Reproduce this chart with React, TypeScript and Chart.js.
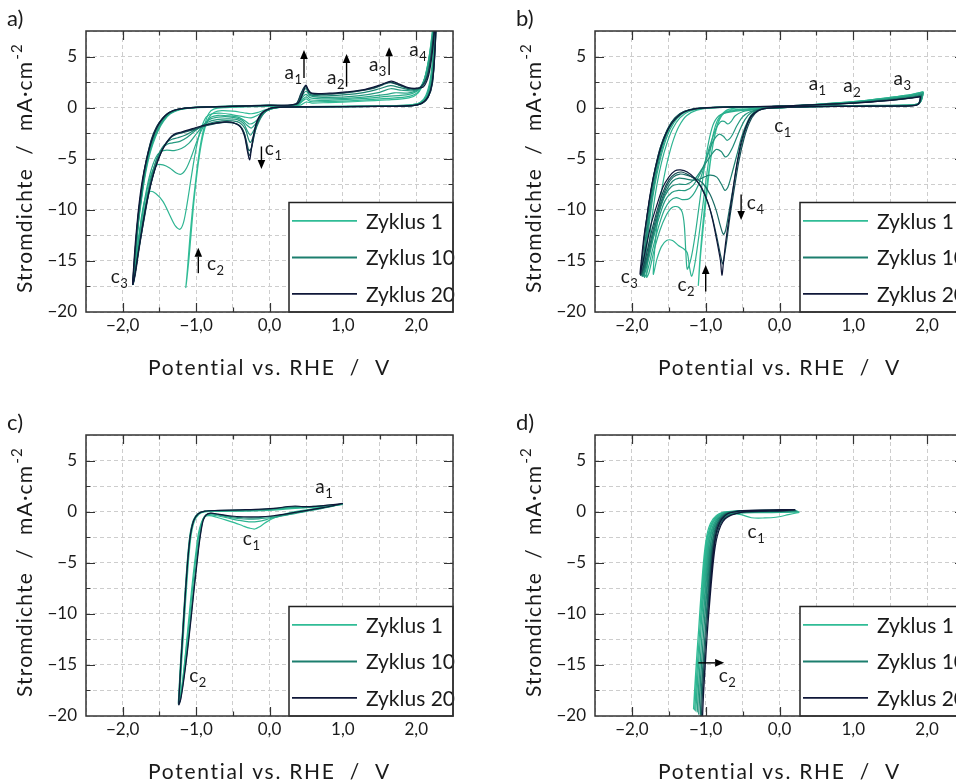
import React, { useEffect, useRef } from 'react';
import { Chart, registerables } from 'chart.js';

Chart.register(...registerables);

const FAMILY = 'Lato, "DejaVu Sans", sans-serif';
Chart.defaults.font.family = FAMILY;

// ---------------- axes / ticks ----------------
const X_GRID = [-2.5, -2, -1.5, -1, -0.5, 0, 0.5, 1, 1.5, 2, 2.5];
const X_MAJOR = [-2, -1, 0, 1, 2];
const X_TICK_LABELS = ['\u22122,0', '\u22121,0', '0,0', '1,0', '2,0'];
const Y_GRID = [-20, -17.5, -15, -12.5, -10, -7.5, -5, -2.5, 0, 2.5, 5, 7.5];
const Y_MAJOR = [5, 0, -5, -10, -15, -20];
const Y_TICK_LABELS = ['5', '0', '\u22125', '\u221210', '\u221215', '\u221220'];
const X_TITLE = 'Potential vs. RHE  /  V';
const Y_TITLE = 'Stromdichte  /  mA·cm';
const Y_TITLE_SUP = '-2';
const LEGEND_CYCLES = [1, 10, 20];
const LEGEND_LABELS = ['Zyklus 1', 'Zyklus 10', 'Zyklus 20'];

// ---------------- panel a ----------------
const A_Z01 = [0.4,0.1, 0.1,0.0, -0.05,-0.2, -0.15,-0.45, -0.25,-0.6, -0.35,-0.5, -0.5,-0.35, -0.65,-0.3, -0.75,-0.45, -0.82,-0.9, -0.88,-2.0, -0.93,-3.6, -0.98,-6.0, -1.03,-9.2, -1.07,-12.5, -1.1,-15.0, -1.14,-17.6,
  -1.12,-16.0, -1.09,-13.2, -1.05,-10.0, -1.01,-7.4, -0.97,-5.0, -0.93,-3.2, -0.88,-1.6, -0.83,-0.6, -0.76,-0.15, -0.6,0.0, -0.2,0.1, 0.2,0.15, 0.42,0.25, 0.5,0.55, 0.58,0.45, 0.8,0.5, 1.2,0.6, 1.6,0.75, 1.9,0.95, 2.02,1.4, 2.1,2.5, 2.17,4.8, 2.22,7.5, 2.26,10];
const A_Z02 = [2.26,10, 2.23,5.5, 2.19,2.8, 2.13,1.2, 2.05,0.5, 1.9,0.25, 1.4,0.15, 0.5,0.1, 0.1,0.0, -0.05,-0.3, -0.15,-0.7, -0.25,-1.0, -0.35,-0.9, -0.5,-0.7, -0.65,-0.55, -0.78,-0.6, -0.86,-0.9, -0.92,-1.8, -0.97,-3.0, -1.02,-4.8, -1.07,-7.0, -1.12,-9.3, -1.17,-11.2, -1.22,-11.9, -1.28,-11.6, -1.36,-10.5, -1.45,-9.2, -1.55,-8.4, -1.63,-8.2, -1.69,-8.8, -1.74,-10.5, -1.79,-13.2, -1.83,-15.8, -1.86,-17.3,
  -1.84,-15.8, -1.81,-13.3, -1.78,-11.0, -1.74,-8.8, -1.7,-6.9, -1.65,-5.1, -1.59,-3.6, -1.52,-2.3, -1.44,-1.3, -1.35,-0.6, -1.22,-0.2, -1.0,0.0, -0.5,0.08, 0.0,0.15, 0.38,0.25, 0.46,0.7, 0.5,0.85, 0.56,0.6, 0.8,0.6, 1.2,0.72, 1.6,0.9, 1.9,1.1, 2.03,1.6, 2.11,2.8, 2.18,5.2, 2.23,8.0, 2.27,10.5];
const A_Z03 = [2.27,10.5, 2.24,5.5, 2.2,2.8, 2.14,1.2, 2.06,0.5, 1.9,0.25, 1.4,0.15, 0.5,0.1, 0.1,0.0, -0.05,-0.35, -0.13,-0.9, -0.2,-1.4, -0.27,-1.6, -0.33,-1.3, -0.42,-0.95, -0.55,-0.8, -0.7,-0.75, -0.8,-0.95, -0.87,-1.5, -0.94,-2.4, -1.0,-3.5, -1.06,-4.7, -1.13,-5.9, -1.2,-6.5, -1.27,-6.4, -1.36,-5.9, -1.45,-5.6, -1.53,-5.6, -1.6,-6.3, -1.66,-7.8, -1.72,-10.0, -1.78,-12.8, -1.83,-15.5, -1.86,-17.3,
  -1.84,-15.6, -1.81,-13.1, -1.78,-10.8, -1.74,-8.6, -1.7,-6.7, -1.65,-4.9, -1.59,-3.4, -1.52,-2.2, -1.44,-1.2, -1.35,-0.55, -1.22,-0.18, -1.0,0.0, -0.5,0.1, 0.0,0.17, 0.38,0.27, 0.46,0.85, 0.5,1.05, 0.56,0.75, 0.8,0.72, 1.2,0.85, 1.6,1.1, 1.9,1.3, 2.03,1.75, 2.12,3.0, 2.19,5.5, 2.24,8.3, 2.27,10.5];
const A_Z04 = [2.27,10.5, 2.24,5.5, 2.2,2.6, 2.14,1.1, 2.06,0.45, 1.9,0.22, 1.4,0.13, 0.5,0.08, 0.1,0.0, -0.05,-0.35, -0.12,-0.9, -0.19,-1.6, -0.25,-2.0, -0.31,-1.7, -0.38,-1.2, -0.5,-0.95, -0.65,-0.9, -0.8,-1.1, -0.9,-1.7, -1.0,-2.6, -1.1,-3.5, -1.2,-4.0, -1.3,-4.2, -1.4,-4.15, -1.48,-4.3, -1.55,-4.9, -1.62,-6.3, -1.68,-8.2, -1.74,-10.8, -1.8,-13.8, -1.84,-16.0, -1.86,-17.3,
  -1.84,-15.5, -1.81,-13.0, -1.78,-10.7, -1.74,-8.5, -1.7,-6.6, -1.65,-4.8, -1.59,-3.3, -1.52,-2.1, -1.44,-1.15, -1.35,-0.5, -1.22,-0.15, -1.0,0.02, -0.5,0.12, 0.0,0.2, 0.38,0.3, 0.46,1.1, 0.5,1.3, 0.56,0.95, 0.8,0.85, 1.2,0.98, 1.6,1.3, 1.7,1.45, 1.9,1.45, 2.04,1.85, 2.13,3.2, 2.2,5.8, 2.25,8.8, 2.28,10.5];
const A_Z06 = [2.28,10.5, 2.25,5.8, 2.21,2.6, 2.15,1.1, 2.07,0.45, 1.92,0.2, 1.4,0.12, 0.5,0.08, 0.08,0.0, -0.04,-0.3, -0.11,-0.8, -0.17,-1.6, -0.22,-2.3, -0.26,-2.7, -0.3,-2.3, -0.35,-1.6, -0.43,-1.2, -0.55,-1.1, -0.7,-1.15, -0.85,-1.45, -1.0,-2.2, -1.12,-2.9, -1.22,-3.3, -1.32,-3.45, -1.4,-3.6, -1.47,-4.1, -1.54,-5.1, -1.61,-6.8, -1.67,-8.8, -1.73,-11.2, -1.79,-14.0, -1.84,-16.4, -1.86,-17.3,
  -1.84,-15.4, -1.81,-12.9, -1.78,-10.6, -1.74,-8.4, -1.7,-6.5, -1.65,-4.7, -1.59,-3.2, -1.52,-2.0, -1.44,-1.1, -1.35,-0.5, -1.22,-0.15, -1.0,0.03, -0.5,0.14, 0.0,0.22, 0.38,0.32, 0.46,1.35, 0.5,1.6, 0.56,1.15, 0.8,1.0, 1.2,1.15, 1.5,1.5, 1.65,1.85, 1.8,1.7, 1.95,1.65, 2.06,1.95, 2.14,3.2, 2.2,5.6, 2.25,8.8, 2.28,10.5];
const A_Z09 = [2.28,10.5, 2.25,5.8, 2.21,2.4, 2.15,1.0, 2.07,0.4, 1.93,0.18, 1.4,0.11, 0.5,0.07, 0.07,0.0, -0.04,-0.3, -0.11,-0.9, -0.17,-1.8, -0.22,-2.8, -0.26,-3.4, -0.29,-3.0, -0.33,-2.1, -0.4,-1.5, -0.5,-1.3, -0.65,-1.3, -0.85,-1.6, -1.02,-2.2, -1.15,-2.7, -1.25,-2.95, -1.33,-3.1, -1.4,-3.4, -1.47,-4.0, -1.54,-5.1, -1.61,-6.8, -1.67,-8.9, -1.73,-11.3, -1.79,-14.1, -1.84,-16.5, -1.86,-17.3,
  -1.84,-15.3, -1.81,-12.8, -1.78,-10.5, -1.74,-8.2, -1.7,-6.3, -1.65,-4.5, -1.6,-3.1, -1.53,-1.9, -1.45,-1.05, -1.36,-0.48, -1.23,-0.15, -1.0,0.03, -0.5,0.15, 0.0,0.23, 0.37,0.33, 0.45,1.5, 0.5,1.85, 0.55,1.3, 0.7,1.15, 1.0,1.25, 1.3,1.5, 1.5,1.85, 1.65,2.15, 1.78,1.95, 1.92,1.75, 2.06,1.95, 2.15,3.1, 2.21,5.5, 2.25,8.5, 2.28,10.5];
const A_Z13 = [2.28,10.5, 2.26,6.2, 2.22,2.4, 2.16,1.0, 2.08,0.42, 1.94,0.19, 1.5,0.12, 0.5,0.08, 0.06,0.0, -0.05,-0.28, -0.11,-0.7, -0.17,-1.6, -0.21,-2.8, -0.25,-4.0, -0.28,-4.2, -0.31,-3.4, -0.35,-2.4, -0.41,-1.75, -0.5,-1.5, -0.62,-1.45, -0.85,-1.75, -1.03,-2.15, -1.18,-2.45, -1.28,-2.65, -1.35,-2.95, -1.43,-3.7, -1.51,-4.9, -1.58,-6.5, -1.65,-8.6, -1.71,-11.0, -1.78,-13.8, -1.83,-16.2, -1.86,-17.3,
  -1.85,-15.8, -1.82,-13.0, -1.79,-10.6, -1.75,-8.3, -1.71,-6.3, -1.66,-4.5, -1.6,-3.0, -1.53,-1.8, -1.45,-1.0, -1.36,-0.45, -1.24,-0.15, -1.0,0.02, -0.5,0.15, 0.0,0.24, 0.36,0.35, 0.44,1.5, 0.49,2.05, 0.54,1.5, 0.62,1.3, 0.85,1.35, 1.15,1.55, 1.4,1.85, 1.55,2.25, 1.65,2.45, 1.76,2.2, 1.9,1.85, 2.05,1.95, 2.15,3.0, 2.21,5.2, 2.25,8.3, 2.28,10.5];
const A_Z16 = [2.28,10.5, 2.26,6.3, 2.22,2.4, 2.16,1.0, 2.08,0.43, 1.95,0.2, 1.5,0.12, 0.5,0.08, 0.05,0.0, -0.05,-0.26, -0.11,-0.6, -0.17,-1.4, -0.21,-2.6, -0.245,-4.0, -0.275,-4.7, -0.305,-3.9, -0.34,-2.6, -0.4,-1.8, -0.5,-1.47, -0.62,-1.42, -0.85,-1.7, -1.04,-2.1, -1.19,-2.42, -1.29,-2.62, -1.36,-3.0, -1.44,-3.85, -1.52,-5.1, -1.59,-6.7, -1.66,-8.9, -1.72,-11.3, -1.78,-14.0, -1.83,-16.4, -1.86,-17.3,
  -1.85,-15.9, -1.82,-13.1, -1.79,-10.7, -1.75,-8.4, -1.71,-6.4, -1.66,-4.6, -1.61,-3.1, -1.54,-1.9, -1.46,-1.05, -1.37,-0.48, -1.25,-0.16, -1.0,0.02, -0.5,0.12, 0.0,0.22, 0.35,0.32, 0.43,1.4, 0.49,2.15, 0.54,1.55, 0.61,1.33, 0.85,1.35, 1.15,1.58, 1.4,1.9, 1.55,2.3, 1.65,2.5, 1.76,2.25, 1.89,1.9, 2.04,1.95, 2.14,2.9, 2.2,5.0, 2.25,8.0, 2.28,10.5];
const A_Z20 = [2.28,10.5, 2.26,6.5, 2.23,3.2, 2.19,1.6, 2.14,0.85, 2.07,0.42, 1.95,0.2, 1.5,0.12, 0.5,0.08, 0.05,0.0, -0.05,-0.25, -0.11,-0.55, -0.17,-1.3, -0.21,-2.4, -0.245,-3.9, -0.27,-5.1, -0.3,-4.3, -0.34,-2.8, -0.4,-1.85, -0.5,-1.45, -0.6,-1.4, -0.85,-1.65, -1.05,-2.05, -1.2,-2.38, -1.3,-2.6, -1.37,-3.1, -1.45,-4.0, -1.53,-5.4, -1.6,-7.0, -1.67,-9.2, -1.73,-11.6, -1.79,-14.3, -1.84,-16.6, -1.865,-17.3,
  -1.855,-16.0, -1.83,-13.4, -1.8,-11.0, -1.77,-9.0, -1.73,-7.0, -1.68,-5.2, -1.62,-3.6, -1.55,-2.2, -1.47,-1.2, -1.38,-0.55, -1.26,-0.18, -1.0,0.02, -0.5,0.12, 0.0,0.22, 0.3,0.28, 0.39,0.45, 0.45,1.3, 0.495,2.2, 0.53,1.75, 0.57,1.42, 0.82,1.42, 1.05,1.55, 1.27,1.73, 1.5,2.2, 1.66,2.6, 1.77,2.3, 1.89,1.96, 2.0,1.9, 2.1,2.05, 2.17,3.2, 2.22,5.5, 2.26,8.5, 2.29,11];

// ---------------- panel b ----------------
const B_Z01 = [0.3,0.05, 0.0,0.0, -0.4,-0.1, -0.65,-0.25, -0.76,-0.6, -0.83,-1.5, -0.89,-3.2, -0.94,-5.5, -0.98,-8.1, -1.03,-11.5, -1.07,-14.5, -1.1,-17.4,
  -1.08,-15.0, -1.05,-12.3, -1.01,-9.3, -0.97,-6.8, -0.92,-4.4, -0.87,-2.4, -0.81,-1.0, -0.73,-0.3, -0.6,-0.05, -0.3,0.05, 0.0,0.1, 0.5,0.32, 1.0,0.58, 1.5,1.0, 1.8,1.3, 1.95,1.55];
const B_Z02 = [1.95,1.55, 1.92,0.7, 1.87,0.35, 1.7,0.25, 1.0,0.2, 0.4,0.12, 0.0,0.0, -0.35,-0.15, -0.62,-0.3, -0.77,-0.6, -0.85,-1.4, -0.91,-3.0, -0.96,-5.2, -1.01,-7.9, -1.06,-10.8, -1.11,-13.5, -1.15,-15.4, -1.19,-16.5, -1.22,-15.6, -1.25,-14.2, -1.3,-13.8, -1.37,-13.5, -1.45,-13.0, -1.53,-13.0, -1.6,-13.6, -1.66,-14.8, -1.71,-16.3,
  -1.69,-13.8, -1.66,-11.5, -1.62,-9.2, -1.57,-7.0, -1.51,-5.0, -1.44,-3.2, -1.36,-1.8, -1.26,-0.8, -1.12,-0.25, -0.9,0.0, -0.4,0.08, 0.0,0.12, 0.5,0.32, 1.0,0.58, 1.5,1.0, 1.8,1.3, 1.95,1.55];
const B_Z03 = [1.95,1.5, 1.92,0.7, 1.87,0.35, 1.7,0.25, 1.0,0.18, 0.4,0.1, 0.0,0.0, -0.3,-0.15, -0.6,-0.35, -0.8,-0.7, -0.89,-1.5, -0.95,-3.0, -1.0,-5.0, -1.05,-7.5, -1.1,-10.2, -1.15,-12.8, -1.2,-14.8, -1.25,-15.8, -1.27,-14.0, -1.29,-11.5, -1.32,-10.2, -1.38,-9.7, -1.46,-9.8, -1.54,-10.6, -1.62,-12.0, -1.7,-14.0, -1.77,-16.2, -1.8,-16.6,
  -1.78,-14.5, -1.75,-12.2, -1.71,-9.8, -1.66,-7.5, -1.6,-5.4, -1.53,-3.6, -1.45,-2.1, -1.35,-1.0, -1.22,-0.35, -1.0,-0.02, -0.5,0.07, 0.0,0.12, 0.5,0.3, 1.0,0.55, 1.5,0.95, 1.8,1.25, 1.95,1.5];
const B_Z04 = [1.95,1.5, 1.92,0.65, 1.87,0.33, 1.7,0.23, 1.0,0.17, 0.4,0.1, 0.0,0.0, -0.3,-0.15, -0.5,-0.4, -0.6,-0.8, -0.66,-1.4, -0.7,-1.6, -0.75,-1.35, -0.8,-1.4, -0.87,-2.2, -0.95,-3.9, -1.03,-6.0, -1.12,-7.9, -1.22,-8.9, -1.32,-9.0, -1.4,-8.8, -1.48,-9.1, -1.56,-10.0, -1.64,-11.7, -1.72,-13.9, -1.79,-16.0, -1.83,-16.6,
  -1.81,-14.6, -1.78,-12.3, -1.74,-9.9, -1.69,-7.6, -1.63,-5.5, -1.56,-3.6, -1.48,-2.1, -1.38,-1.0, -1.25,-0.35, -1.0,-0.02, -0.5,0.07, 0.0,0.12, 0.5,0.3, 1.0,0.53, 1.5,0.9, 1.8,1.2, 1.94,1.45];
const B_Z06 = [1.94,1.45, 1.91,0.6, 1.86,0.3, 1.7,0.2, 1.0,0.15, 0.4,0.1, 0.0,0.0, -0.25,-0.12, -0.4,-0.4, -0.5,-0.9, -0.58,-1.8, -0.65,-2.8, -0.71,-3.2, -0.76,-2.8, -0.82,-2.6, -0.9,-3.3, -0.98,-4.8, -1.07,-6.4, -1.17,-7.6, -1.27,-8.1, -1.37,-8.1, -1.46,-8.3, -1.55,-9.1, -1.63,-10.7, -1.71,-12.8, -1.78,-15.0, -1.84,-16.5,
  -1.82,-14.7, -1.79,-12.4, -1.75,-10.0, -1.7,-7.6, -1.64,-5.4, -1.57,-3.5, -1.49,-2.0, -1.39,-0.95, -1.26,-0.33, -1.0,-0.02, -0.5,0.07, 0.0,0.12, 0.5,0.28, 1.0,0.5, 1.5,0.85, 1.8,1.12, 1.93,1.35];
const B_Z08 = [1.93,1.35, 1.9,0.55, 1.85,0.28, 1.7,0.2, 1.0,0.14, 0.4,0.1, 0.0,0.0, -0.25,-0.12, -0.38,-0.45, -0.47,-1.2, -0.55,-2.4, -0.63,-3.8, -0.7,-4.7, -0.74,-4.8, -0.79,-4.3, -0.86,-4.1, -0.95,-4.9, -1.05,-6.0, -1.15,-7.0, -1.26,-7.5, -1.37,-7.5, -1.46,-7.7, -1.55,-8.6, -1.63,-10.2, -1.71,-12.4, -1.78,-14.6, -1.85,-16.5,
  -1.83,-14.7, -1.8,-12.4, -1.76,-10.0, -1.71,-7.6, -1.65,-5.4, -1.58,-3.5, -1.5,-2.0, -1.4,-0.95, -1.27,-0.33, -1.0,-0.02, -0.5,0.07, 0.0,0.13, 0.5,0.28, 1.0,0.48, 1.5,0.8, 1.8,1.05, 1.92,1.25];
const B_Z10 = [1.92,1.25, 1.9,0.5, 1.85,0.26, 1.7,0.18, 1.0,0.13, 0.4,0.1, 0.0,0.0, -0.22,-0.1, -0.35,-0.45, -0.43,-1.3, -0.51,-2.8, -0.58,-4.7, -0.65,-6.6, -0.7,-7.8, -0.74,-8.1, -0.78,-7.6, -0.85,-6.8, -0.95,-6.6, -1.05,-6.9, -1.15,-7.1, -1.26,-7.0, -1.36,-6.9, -1.45,-7.2, -1.54,-8.2, -1.62,-9.8, -1.7,-12.0, -1.78,-14.5, -1.86,-16.5,
  -1.84,-14.7, -1.81,-12.4, -1.77,-10.0, -1.72,-7.6, -1.66,-5.4, -1.59,-3.5, -1.51,-2.0, -1.41,-0.95, -1.28,-0.33, -1.0,-0.02, -0.5,0.07, 0.0,0.13, 0.5,0.28, 1.0,0.47, 1.5,0.76, 1.8,1.0, 1.92,1.18];
const B_Z12 = [1.92,1.18, 1.9,0.48, 1.85,0.25, 1.7,0.18, 1.0,0.13, 0.4,0.1, 0.0,0.0, -0.22,-0.1, -0.34,-0.5, -0.42,-1.4, -0.49,-2.9, -0.56,-5.0, -0.62,-7.5, -0.68,-10.0, -0.73,-12.0, -0.76,-12.4, -0.8,-11.6, -0.86,-10.0, -0.94,-8.5, -1.04,-7.4, -1.15,-6.9, -1.26,-6.6, -1.35,-6.5, -1.44,-6.8, -1.52,-7.6, -1.6,-9.1, -1.68,-11.0, -1.76,-13.5, -1.83,-15.6, -1.88,-16.4,
  -1.86,-14.8, -1.83,-12.6, -1.79,-10.4, -1.74,-8.1, -1.68,-5.8, -1.61,-3.8, -1.52,-2.2, -1.42,-1.05, -1.29,-0.38, -1.1,-0.06, -0.5,0.07, 0.0,0.13, 0.5,0.27, 1.0,0.46, 1.5,0.74, 1.8,0.98, 1.91,1.12];
const B_Z15 = [1.91,1.12, 1.89,0.46, 1.85,0.24, 1.7,0.17, 1.0,0.12, 0.4,0.1, 0.0,0.0, -0.22,-0.1, -0.33,-0.55, -0.41,-1.5, -0.48,-3.0, -0.55,-5.2, -0.61,-7.8, -0.67,-10.6, -0.72,-13.3, -0.755,-14.9, -0.77,-15.3, -0.8,-14.4, -0.86,-12.3, -0.93,-10.2, -1.02,-8.4, -1.12,-7.2, -1.23,-6.6, -1.33,-6.3, -1.42,-6.5, -1.5,-7.1, -1.58,-8.3, -1.66,-10.1, -1.74,-12.3, -1.81,-14.6, -1.88,-16.4,
  -1.86,-14.8, -1.83,-12.6, -1.79,-10.4, -1.74,-8.1, -1.68,-5.8, -1.61,-3.8, -1.52,-2.2, -1.42,-1.05, -1.3,-0.4, -1.12,-0.08, -0.5,0.07, 0.0,0.14, 0.5,0.29, 1.0,0.45, 1.5,0.72, 1.8,0.96, 1.91,1.1];
const B_Z20 = [1.91,1.08, 1.9,0.55, 1.87,0.28, 1.8,0.18, 1.0,0.13, 0.4,0.1, 0.1,0.05, -0.15,-0.05, -0.28,-0.25, -0.35,-0.6, -0.4,-1.0, -0.46,-2.0, -0.52,-3.4, -0.58,-5.6, -0.63,-8.0, -0.68,-10.6, -0.73,-13.2, -0.76,-15.2, -0.78,-16.4, -0.8,-15.0, -0.85,-13.0, -0.9,-11.2, -0.96,-9.5, -1.05,-7.9, -1.15,-6.9, -1.25,-6.3, -1.34,-6.1, -1.42,-6.2, -1.5,-6.8, -1.58,-7.8, -1.66,-9.5, -1.74,-11.4, -1.8,-13.4, -1.85,-15.1, -1.89,-16.3,
  -1.87,-14.8, -1.84,-12.8, -1.8,-10.8, -1.76,-8.8, -1.71,-6.8, -1.65,-5.0, -1.58,-3.3, -1.5,-2.0, -1.41,-1.1, -1.3,-0.45, -1.15,-0.12, -0.9,0.02, -0.5,0.08, 0.0,0.15, 0.5,0.3, 1.0,0.45, 1.5,0.72, 1.8,0.95, 1.91,1.08];

// ---------------- panel c ----------------
const C_Z01 = [1.0,0.72, 0.85,0.58, 0.68,0.4, 0.5,0.18, 0.35,0.0, 0.22,-0.22, 0.08,-0.55, -0.05,-1.05, -0.14,-1.5, -0.2,-1.7, -0.27,-1.62, -0.36,-1.4, -0.47,-1.1, -0.6,-0.8, -0.72,-0.55, -0.82,-0.4, -0.88,-0.5, -0.93,-1.1, -0.97,-2.2, -1.0,-3.8, -1.04,-6.2, -1.08,-9.0, -1.12,-12.0, -1.16,-15.0, -1.2,-17.5, -1.23,-18.7,
  -1.215,-17.0, -1.195,-14.5, -1.17,-11.8, -1.145,-9.0, -1.12,-6.4, -1.095,-4.1, -1.065,-2.2, -1.02,-0.9, -0.96,-0.25, -0.88,-0.02, -0.7,0.02, -0.4,0.05, -0.1,0.1, 0.1,0.18, 0.3,0.3, 0.5,0.4, 0.7,0.52, 0.9,0.62, 1.0,0.72];
const C_Z02 = [1.0,0.72, 0.8,0.48, 0.6,0.22, 0.4,-0.05, 0.2,-0.35, 0.0,-0.7, -0.15,-0.95, -0.28,-1.0, -0.42,-0.85, -0.58,-0.6, -0.72,-0.4, -0.82,-0.3, -0.88,-0.45, -0.92,-1.0, -0.955,-2.0, -0.985,-3.5, -1.02,-5.6, -1.06,-8.3, -1.1,-11.2, -1.15,-14.4, -1.19,-17.0, -1.23,-18.7,
  -1.22,-17.0, -1.2,-14.4, -1.175,-11.6, -1.15,-8.8, -1.125,-6.2, -1.1,-3.9, -1.07,-2.0, -1.025,-0.75, -0.965,-0.18, -0.88,0.02, -0.7,0.05, -0.4,0.08, -0.1,0.14, 0.1,0.24, 0.3,0.36, 0.5,0.42, 0.7,0.52, 0.9,0.64, 1.0,0.72];
const C_Z04 = [1.0,0.75, 0.85,0.5, 0.65,0.22, 0.45,-0.05, 0.25,-0.32, 0.05,-0.55, -0.15,-0.7, -0.35,-0.72, -0.55,-0.55, -0.7,-0.32, -0.8,-0.2, -0.87,-0.35, -0.91,-0.85, -0.94,-1.9, -0.97,-3.4, -1.0,-5.3, -1.04,-7.9, -1.08,-10.7, -1.13,-13.9, -1.18,-16.7, -1.22,-18.5, -1.24,-18.8,
  -1.23,-17.1, -1.21,-14.5, -1.185,-11.7, -1.16,-8.9, -1.135,-6.3, -1.11,-4.0, -1.08,-2.1, -1.035,-0.8, -0.975,-0.2, -0.89,0.03, -0.7,0.08, -0.4,0.12, -0.1,0.18, 0.1,0.28, 0.25,0.4, 0.4,0.42, 0.6,0.45, 0.8,0.58, 1.0,0.75];
const C_Z10 = [1.0,0.78, 0.85,0.53, 0.65,0.27, 0.45,0.0, 0.25,-0.25, 0.05,-0.45, -0.15,-0.58, -0.35,-0.6, -0.55,-0.46, -0.7,-0.28, -0.8,-0.17, -0.865,-0.32, -0.905,-0.8, -0.935,-1.85, -0.965,-3.35, -0.995,-5.25, -1.035,-7.85, -1.075,-10.65, -1.125,-13.85, -1.175,-16.65, -1.215,-18.45, -1.24,-18.85,
  -1.228,-17.15, -1.208,-14.55, -1.183,-11.75, -1.158,-8.95, -1.133,-6.35, -1.108,-4.05, -1.078,-2.15, -1.033,-0.82, -0.972,-0.2, -0.885,0.04, -0.7,0.1, -0.4,0.15, -0.1,0.22, 0.1,0.32, 0.25,0.46, 0.37,0.5, 0.5,0.47, 0.7,0.56, 0.9,0.68, 1.0,0.78];
const C_Z20 = [1.0,0.8, 0.85,0.55, 0.65,0.3, 0.45,0.05, 0.25,-0.2, 0.05,-0.4, -0.15,-0.5, -0.35,-0.5, -0.55,-0.4, -0.7,-0.25, -0.8,-0.15, -0.86,-0.3, -0.9,-0.8, -0.93,-1.8, -0.96,-3.3, -0.99,-5.2, -1.03,-7.8, -1.07,-10.6, -1.12,-13.8, -1.17,-16.6, -1.21,-18.4, -1.235,-18.9,
  -1.225,-17.2, -1.205,-14.6, -1.18,-11.8, -1.155,-9.0, -1.13,-6.4, -1.105,-4.1, -1.075,-2.2, -1.03,-0.85, -0.97,-0.2, -0.88,0.05, -0.7,0.12, -0.4,0.18, -0.1,0.25, 0.1,0.35, 0.25,0.5, 0.35,0.55, 0.45,0.5, 0.6,0.52, 0.8,0.65, 1.0,0.8];

// ---------------- panel d ----------------
const D_Z01 = [0.27,-0.07, 0.12,-0.3, -0.05,-0.55, -0.2,-0.62, -0.38,-0.6, -0.52,-0.3, -0.66,-0.2, -0.78,-0.3, -0.86,-0.65, -0.92,-1.3, -0.97,-2.4, -1.0,-3.8, -1.03,-5.8, -1.06,-8.3, -1.09,-11.0, -1.12,-14.0, -1.145,-16.8, -1.165,-19.3,
  -1.15,-18.0, -1.13,-15.5, -1.105,-12.6, -1.08,-9.8, -1.055,-7.2, -1.03,-4.9, -1.0,-3.0, -0.96,-1.6, -0.9,-0.7, -0.82,-0.2, -0.7,0.0, -0.5,0.05, -0.2,0.0, 0.05,-0.02, 0.27,-0.05];
const D_Z02 = [0.26,0.0, 0.1,-0.05, -0.1,-0.1, -0.3,-0.1, -0.5,-0.12, -0.65,-0.2, -0.76,-0.35, -0.84,-0.7, -0.9,-1.35, -0.95,-2.45, -0.985,-3.9, -1.015,-5.9, -1.045,-8.4, -1.075,-11.1, -1.105,-14.1, -1.13,-16.9, -1.15,-19.4,
  -1.135,-18.0, -1.115,-15.5, -1.09,-12.6, -1.065,-9.8, -1.04,-7.2, -1.015,-4.9, -0.985,-3.0, -0.945,-1.6, -0.885,-0.7, -0.805,-0.2, -0.69,0.0, -0.5,0.05, -0.2,0.05, 0.05,0.05, 0.26,0.0];
const D_Z03 = [0.25,0.02, 0.05,-0.03, -0.2,-0.05, -0.45,-0.08, -0.6,-0.15, -0.745,-0.35, -0.825,-0.7, -0.885,-1.35, -0.935,-2.45, -0.97,-3.9, -1.0,-5.9, -1.03,-8.4, -1.06,-11.1, -1.09,-14.1, -1.115,-16.9, -1.135,-19.5,
  -1.12,-18.0, -1.1,-15.5, -1.075,-12.6, -1.05,-9.8, -1.025,-7.2, -1.0,-4.9, -0.97,-3.0, -0.93,-1.6, -0.87,-0.7, -0.79,-0.2, -0.675,0.0, -0.5,0.05, -0.2,0.05, 0.05,0.06, 0.25,0.02];
const D_Z05 = [0.24,0.05, 0.05,0.0, -0.2,-0.03, -0.45,-0.06, -0.58,-0.14, -0.725,-0.35, -0.805,-0.7, -0.865,-1.35, -0.915,-2.45, -0.95,-3.9, -0.98,-5.9, -1.01,-8.4, -1.04,-11.1, -1.07,-14.1, -1.095,-16.9, -1.115,-19.6,
  -1.1,-18.0, -1.08,-15.5, -1.055,-12.6, -1.03,-9.8, -1.005,-7.2, -0.98,-4.9, -0.95,-3.0, -0.91,-1.6, -0.85,-0.7, -0.77,-0.2, -0.655,0.0, -0.5,0.06, -0.2,0.07, 0.05,0.08, 0.24,0.05];
const D_Z08 = [0.23,0.08, 0.05,0.03, -0.2,0.0, -0.45,-0.04, -0.56,-0.12, -0.705,-0.35, -0.785,-0.7, -0.845,-1.35, -0.895,-2.45, -0.93,-3.9, -0.96,-5.9, -0.99,-8.4, -1.02,-11.1, -1.05,-14.1, -1.075,-16.9, -1.095,-19.8,
  -1.08,-18.0, -1.06,-15.5, -1.035,-12.6, -1.01,-9.8, -0.985,-7.2, -0.96,-4.9, -0.93,-3.0, -0.89,-1.6, -0.83,-0.7, -0.75,-0.2, -0.635,0.0, -0.5,0.07, -0.2,0.1, 0.05,0.12, 0.23,0.08];
const D_Z11 = [0.22,0.12, 0.05,0.06, -0.2,0.02, -0.45,-0.02, -0.54,-0.1, -0.685,-0.35, -0.765,-0.7, -0.825,-1.35, -0.875,-2.45, -0.91,-3.9, -0.94,-5.9, -0.97,-8.4, -1.0,-11.1, -1.03,-14.1, -1.055,-16.9, -1.075,-20.2,
  -1.06,-18.0, -1.04,-15.5, -1.015,-12.6, -0.99,-9.8, -0.965,-7.2, -0.94,-4.9, -0.91,-3.0, -0.87,-1.6, -0.81,-0.7, -0.73,-0.2, -0.615,0.0, -0.5,0.08, -0.2,0.12, 0.05,0.15, 0.22,0.12];
const D_Z15 = [0.22,0.16, 0.05,0.08, -0.2,0.04, -0.45,0.0, -0.53,-0.08, -0.67,-0.35, -0.75,-0.7, -0.81,-1.35, -0.86,-2.45, -0.895,-3.9, -0.925,-5.9, -0.955,-8.4, -0.985,-11.1, -1.015,-14.1, -1.04,-16.9, -1.06,-20.4,
  -1.045,-18.0, -1.025,-15.5, -1.0,-12.6, -0.975,-9.8, -0.95,-7.2, -0.925,-4.9, -0.895,-3.0, -0.855,-1.6, -0.795,-0.7, -0.715,-0.2, -0.6,0.0, -0.5,0.1, -0.2,0.14, 0.05,0.18, 0.22,0.16];
const D_Z20 = [0.21,0.2, 0.05,0.1, -0.2,0.05, -0.45,0.01, -0.52,-0.07, -0.655,-0.35, -0.735,-0.7, -0.795,-1.35, -0.845,-2.45, -0.88,-3.9, -0.91,-5.9, -0.94,-8.4, -0.97,-11.1, -1.0,-14.1, -1.025,-16.9, -1.045,-20.5,
  -1.03,-18.0, -1.01,-15.5, -0.985,-12.6, -0.96,-9.8, -0.935,-7.2, -0.91,-4.9, -0.88,-3.0, -0.84,-1.6, -0.78,-0.7, -0.7,-0.2, -0.585,0.0, -0.5,0.1, -0.2,0.16, 0.05,0.2, 0.21,0.2];

// ---------------- annotations (data coordinates) ----------------
const A_LABELS = [
  { m: 'a', s: '1', x: 0.32, y: 3.1 }, { m: 'a', s: '2', x: 0.9, y: 2.6 }, { m: 'a', s: '3', x: 1.47, y: 3.9 },
  { m: 'a', s: '4', x: 2.02, y: 5.35 }, { m: 'c', s: '1', x: 0.05, y: -4.35 }, { m: 'c', s: '2', x: -0.74, y: -15.6 },
  { m: 'c', s: '3', x: -2.05, y: -16.9 },
];
const A_ARROWS = [
  { x0: 0.47, y0: 2.9, x1: 0.47, y1: 5.65 }, { x0: 1.05, y0: 2.05, x1: 1.05, y1: 5.25 },
  { x0: 1.63, y0: 3.2, x1: 1.63, y1: 5.9 }, { x0: -0.11, y0: -3.8, x1: -0.11, y1: -6.0 },
  { x0: -0.97, y0: -16.2, x1: -0.97, y1: -13.7 },
];
const B_LABELS = [
  { m: 'a', s: '1', x: 0.51, y: 2.0 }, { m: 'a', s: '2', x: 0.98, y: 1.8 }, { m: 'a', s: '3', x: 1.66, y: 2.5 },
  { m: 'c', s: '1', x: 0.04, y: -2.1 }, { m: 'c', s: '4', x: -0.33, y: -9.6 }, { m: 'c', s: '3', x: -2.04, y: -16.9 },
  { m: 'c', s: '2', x: -1.27, y: -17.7 },
];
const B_ARROWS = [
  { x0: -0.52, y0: -8.5, x1: -0.52, y1: -11.0 }, { x0: -1.0, y0: -18.0, x1: -1.0, y1: -15.4 },
];
const C_LABELS = [
  { m: 'a', s: '1', x: 0.74, y: 2.1 }, { m: 'c', s: '1', x: -0.25, y: -3.0 }, { m: 'c', s: '2', x: -0.98, y: -16.4 },
];
const C_ARROWS: any[] = [];
const D_LABELS = [
  { m: 'c', s: '1', x: -0.32, y: -2.3 }, { m: 'c', s: '2', x: -0.71, y: -16.4 },
];
const D_ARROWS = [{ x0: -1.1, y0: -14.8, x1: -0.75, y1: -14.8 }];

const A_CYCLES: [number, number[]][] = [[1, A_Z01], [2, A_Z02], [3, A_Z03], [4, A_Z04], [6, A_Z06], [9, A_Z09], [13, A_Z13], [16, A_Z16], [20, A_Z20]];
const B_CYCLES: [number, number[]][] = [[1, B_Z01], [2, B_Z02], [3, B_Z03], [4, B_Z04], [6, B_Z06], [8, B_Z08], [10, B_Z10], [12, B_Z12], [15, B_Z15], [20, B_Z20]];
const C_CYCLES: [number, number[]][] = [[1, C_Z01], [2, C_Z02], [4, C_Z04], [10, C_Z10], [20, C_Z20]];
const D_CYCLES: [number, number[]][] = [[1, D_Z01], [2, D_Z02], [3, D_Z03], [5, D_Z05], [8, D_Z08], [11, D_Z11], [15, D_Z15], [20, D_Z20]];

// ---------------- styles ----------------
const COLOR_STOPS: [number, number[]][] = [[1, [48, 188, 150]], [10, [28, 126, 110]], [20, [15, 23, 56]]];
function cycleColor(n: number) {
  let a = COLOR_STOPS[0], b = COLOR_STOPS[1];
  if (n > COLOR_STOPS[1][0]) { a = COLOR_STOPS[1]; b = COLOR_STOPS[2]; }
  const t = Math.max(0, Math.min(1, (n - a[0]) / (b[0] - a[0])));
  const c = a[1].map((v, i) => Math.round(v + (b[1][i] - v) * t));
  return `rgb(${c[0]},${c[1]},${c[2]})`;
}
const TEXT = '#1a1a1a';

const PANELS = [
  { key: 'a', tag: 'a)', left: 0, top: 0, w: 478, h: 392, plot: { l: 86, t: 31, r: 453, b: 312 }, cycles: A_CYCLES, labels: A_LABELS, arrows: A_ARROWS },
  { key: 'b', tag: 'b)', left: 478, top: 0, w: 500, h: 392, plot: { l: 117, t: 31, r: 486, b: 312 }, cycles: B_CYCLES, labels: B_LABELS, arrows: B_ARROWS },
  { key: 'c', tag: 'c)', left: 0, top: 392, w: 478, h: 391, plot: { l: 86, t: 43, r: 453, b: 324 }, cycles: C_CYCLES, labels: C_LABELS, arrows: C_ARROWS },
  { key: 'd', tag: 'd)', left: 478, top: 392, w: 500, h: 391, plot: { l: 117, t: 43, r: 486, b: 324 }, cycles: D_CYCLES, labels: D_LABELS, arrows: D_ARROWS },
];

const toPts = (a: number[]) => {
  const r: { x: number; y: number }[] = [];
  for (let i = 0; i < a.length; i += 2) r.push({ x: a[i], y: a[i + 1] });
  return r;
};

function setSpacing(ctx: any, px: number) {
  try { ctx.letterSpacing = px + 'px'; } catch (e) { /* ignore */ }
  try { ctx.textRendering = 'optimizeSpeed'; } catch (e) { /* ignore */ }
}

function drawSubLabel(ctx: CanvasRenderingContext2D, x: number, y: number, m: string, s: string) {
  ctx.font = `19px ${FAMILY}`;
  const wm = ctx.measureText(m).width;
  ctx.font = `13px ${FAMILY}`;
  const ws = ctx.measureText(s).width;
  const x0 = x - (wm + ws) / 2;
  ctx.textAlign = 'left';
  ctx.textBaseline = 'alphabetic';
  ctx.fillStyle = TEXT;
  ctx.font = `19px ${FAMILY}`;
  ctx.fillText(m, x0, y + 3);
  ctx.font = `13px ${FAMILY}`;
  ctx.fillText(s, x0 + wm + 0.5, y + 8);
}

function drawArrow(ctx: CanvasRenderingContext2D, x0: number, y0: number, x1: number, y1: number) {
  const ang = Math.atan2(y1 - y0, x1 - x0);
  const head = 9, hw = 3.8;
  const c = Math.cos(ang), s = Math.sin(ang);
  ctx.strokeStyle = '#000';
  ctx.fillStyle = '#000';
  ctx.lineWidth = 1.4;
  ctx.beginPath();
  ctx.moveTo(x0, y0);
  ctx.lineTo(x1 - head * c, y1 - head * s);
  ctx.stroke();
  ctx.beginPath();
  ctx.moveTo(x1, y1);
  ctx.lineTo(x1 - head * c + hw * s, y1 - head * s - hw * c);
  ctx.lineTo(x1 - head * c - hw * s, y1 - head * s + hw * c);
  ctx.closePath();
  ctx.fill();
}

function makeDecor(panel: any) {
  return {
    id: 'decor_' + panel.key,
    afterDraw(chart: any) {
      const ctx: CanvasRenderingContext2D = chart.ctx;
      const area = chart.chartArea;
      const xs = chart.scales.x, ys = chart.scales.y;
      ctx.save();
      // inward ticks
      ctx.strokeStyle = '#333';
      ctx.lineWidth = 1.2;
      ctx.beginPath();
      X_GRID.forEach((v) => {
        if (v <= X_GRID[0] || v >= X_GRID[X_GRID.length - 1]) return;
        const px = Math.round(xs.getPixelForValue(v)) + 0.5;
        const len = X_MAJOR.includes(v) ? 9 : 4.5;
        ctx.moveTo(px, area.bottom); ctx.lineTo(px, area.bottom - len);
        ctx.moveTo(px, area.top); ctx.lineTo(px, area.top + len);
      });
      Y_GRID.forEach((v) => {
        if (v <= Y_GRID[0] || v >= Y_GRID[Y_GRID.length - 1]) return;
        const py = Math.round(ys.getPixelForValue(v)) + 0.5;
        const len = Y_MAJOR.includes(v) ? 9 : 4.5;
        ctx.moveTo(area.left, py); ctx.lineTo(area.left + len, py);
        ctx.moveTo(area.right, py); ctx.lineTo(area.right - len, py);
      });
      ctx.stroke();

      // legend
      const bx = area.right - 164, by = area.bottom - 109.5;
      ctx.fillStyle = '#fff';
      ctx.fillRect(bx, by, area.right - bx, area.bottom - by);
      ctx.strokeStyle = '#222';
      ctx.lineWidth = 1.5;
      ctx.strokeRect(bx, by, area.right - bx, area.bottom - by);
      const rows = [18.3, 55, 91.3];
      LEGEND_CYCLES.forEach((n, i) => {
        const ry = by + rows[i];
        ctx.strokeStyle = cycleColor(n);
        ctx.lineWidth = 1.8;
        ctx.beginPath(); ctx.moveTo(bx + 3, ry); ctx.lineTo(bx + 68, ry); ctx.stroke();
        ctx.fillStyle = TEXT;
        ctx.font = `21px ${FAMILY}`;
        ctx.textAlign = 'left';
        ctx.textBaseline = 'middle';
        ctx.fillText(LEGEND_LABELS[i], bx + 77, ry + 1);
      });

      // frame
      ctx.strokeStyle = '#333';
      ctx.lineWidth = 1.5;
      ctx.strokeRect(area.left, area.top, area.right - area.left, area.bottom - area.top);

      // annotations
      panel.arrows.forEach((a: any) => {
        drawArrow(ctx, xs.getPixelForValue(a.x0), ys.getPixelForValue(a.y0), xs.getPixelForValue(a.x1), ys.getPixelForValue(a.y1));
      });
      panel.labels.forEach((l: any) => {
        drawSubLabel(ctx, xs.getPixelForValue(l.x), ys.getPixelForValue(l.y), l.m, l.s);
      });

      // axis titles
      ctx.save();
      ctx.fillStyle = TEXT;
      ctx.font = `21px ${FAMILY}`;
      ctx.textAlign = 'center';
      ctx.textBaseline = 'alphabetic';
      setSpacing(ctx, 1.7);
      ctx.fillText(X_TITLE, (area.left + area.right) / 2, area.bottom + 63);

      setSpacing(ctx, 1.2);
      ctx.translate(area.left - 54, area.bottom - 19);
      ctx.rotate(-Math.PI / 2);
      ctx.textAlign = 'left';
      ctx.font = `21px ${FAMILY}`;
      const w1 = ctx.measureText(Y_TITLE).width;
      ctx.fillText(Y_TITLE, 0, 0);
      ctx.font = `15px ${FAMILY}`;
      ctx.fillText(Y_TITLE_SUP, w1 + 1, -10);
      ctx.restore();

      // panel tag
      ctx.fillStyle = TEXT;
      ctx.font = `22px ${FAMILY}`;
      ctx.textAlign = 'left';
      ctx.textBaseline = 'top';
      ctx.fillText(panel.tag, area.left - 79, area.top - 23);
      ctx.restore();
    },
  };
}

function makeConfig(panel: any): any {
  const { plot, w, h } = panel;
  return {
    type: 'scatter',
    data: {
      datasets: panel.cycles.map(([n, arr]: [number, number[]]) => ({
        label: 'Zyklus ' + n,
        data: toPts(arr),
        showLine: true,
        borderColor: cycleColor(n),
        borderWidth: 1.2,
        pointRadius: 0,
        pointHoverRadius: 0,
        tension: 0.3,
        fill: false,
        order: 21 - n,
      })),
    },
    options: {
      responsive: false,
      animation: false,
      devicePixelRatio: 1,
      events: [],
      layout: { padding: { top: plot.t, right: w - plot.r, left: 0, bottom: 0 } },
      plugins: { legend: { display: false }, tooltip: { enabled: false }, title: { display: false } },
      scales: {
        x: {
          type: 'linear',
          min: X_GRID[0],
          max: X_GRID[X_GRID.length - 1],
          afterBuildTicks: (s: any) => { s.ticks = X_GRID.map((v) => ({ value: v })); },
          afterFit: (s: any) => { s.height = h - plot.b; },
          ticks: {
            autoSkip: false, maxRotation: 0, minRotation: 0, padding: 3,
            color: TEXT, font: { size: 17, family: FAMILY },
            callback: (v: number) => { const i = X_MAJOR.indexOf(v); return i >= 0 ? X_TICK_LABELS[i] : ''; },
          },
          grid: { color: '#cdcdcd', lineWidth: 1, drawTicks: false },
          border: { display: false, dash: [4, 3] },
        },
        y: {
          type: 'linear',
          min: Y_GRID[0],
          max: Y_GRID[Y_GRID.length - 1],
          afterBuildTicks: (s: any) => { s.ticks = Y_GRID.map((v) => ({ value: v })); },
          afterFit: (s: any) => { s.width = plot.l; },
          ticks: {
            autoSkip: false, padding: 9,
            color: TEXT, font: { size: 17, family: FAMILY },
            callback: (v: number) => { const i = Y_MAJOR.indexOf(v); return i >= 0 ? Y_TICK_LABELS[i] : ''; },
          },
          grid: { color: '#cdcdcd', lineWidth: 1, drawTicks: false },
          border: { display: false, dash: [4, 3] },
        },
      },
    },
    plugins: [makeDecor(panel)],
  };
}

function PanelChart({ panel }: { panel: any }) {
  const ref = useRef<HTMLCanvasElement>(null);
  useEffect(() => {
    if (!ref.current) return;
    const chart = new Chart(ref.current, makeConfig(panel));
    return () => chart.destroy();
  }, [panel]);
  return (
    <canvas
      ref={ref}
      width={panel.w}
      height={panel.h}
      style={{ position: 'absolute', left: panel.left, top: panel.top, width: panel.w, height: panel.h }}
    />
  );
}

export default function App() {
  return (
    <div style={{ position: 'fixed', left: 0, top: 0, width: 956, height: 783, overflow: 'hidden', background: '#fff' }}>
      {PANELS.map((p) => <PanelChart key={p.key} panel={p} />)}
    </div>
  );
}
